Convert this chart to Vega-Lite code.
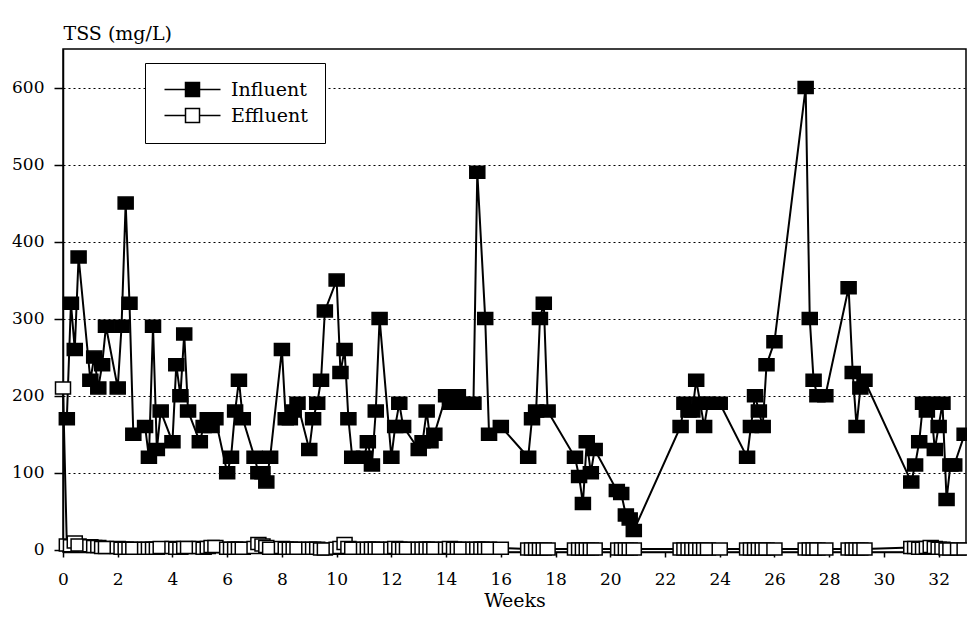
{
 "$schema": "https://vega.github.io/schema/vega-lite/v6.json",
 "width": 903, "height": 503,
 "autosize": {"type": "none"},
 "padding": {"left": 63, "top": 49, "right": 1, "bottom": 79},
 "background": "white",
 "config": {
  "view": {"stroke": "black", "strokeWidth": 1.5},
  "font": "DejaVu Serif",
  "axis": {"domainColor": "black", "tickColor": "black", "labelColor": "black", "titleColor": "black", "domainWidth": 1.5, "tickWidth": 1.5, "labelFont": "DejaVu Serif", "titleFont": "DejaVu Serif", "titleFontWeight": "normal"}
 },
 "data": {"values": [
  {"series":"Influent","week":0.14,"tss":170},{"series":"Influent","week":0.29,"tss":320},{"series":"Influent","week":0.43,"tss":260},{"series":"Influent","week":0.57,"tss":380},
  {"series":"Influent","week":1.0,"tss":220},{"series":"Influent","week":1.14,"tss":250},{"series":"Influent","week":1.29,"tss":210},{"series":"Influent","week":1.43,"tss":240},{"series":"Influent","week":1.57,"tss":290},
  {"series":"Influent","week":2.0,"tss":210},{"series":"Influent","week":2.14,"tss":290},{"series":"Influent","week":2.29,"tss":450},{"series":"Influent","week":2.43,"tss":320},{"series":"Influent","week":2.57,"tss":150},
  {"series":"Influent","week":3.0,"tss":160},{"series":"Influent","week":3.14,"tss":120},{"series":"Influent","week":3.29,"tss":290},{"series":"Influent","week":3.43,"tss":130},{"series":"Influent","week":3.57,"tss":180},
  {"series":"Influent","week":4.0,"tss":140},{"series":"Influent","week":4.14,"tss":240},{"series":"Influent","week":4.29,"tss":200},{"series":"Influent","week":4.43,"tss":280},{"series":"Influent","week":4.57,"tss":180},
  {"series":"Influent","week":5.0,"tss":140},{"series":"Influent","week":5.14,"tss":160},{"series":"Influent","week":5.29,"tss":170},{"series":"Influent","week":5.43,"tss":160},{"series":"Influent","week":5.57,"tss":170},
  {"series":"Influent","week":6.0,"tss":100},{"series":"Influent","week":6.14,"tss":120},{"series":"Influent","week":6.29,"tss":180},{"series":"Influent","week":6.43,"tss":220},{"series":"Influent","week":6.57,"tss":170},
  {"series":"Influent","week":7.0,"tss":120},{"series":"Influent","week":7.14,"tss":100},{"series":"Influent","week":7.29,"tss":100},{"series":"Influent","week":7.43,"tss":88},{"series":"Influent","week":7.57,"tss":120},
  {"series":"Influent","week":8.0,"tss":260},{"series":"Influent","week":8.14,"tss":170},{"series":"Influent","week":8.29,"tss":170},{"series":"Influent","week":8.43,"tss":180},{"series":"Influent","week":8.57,"tss":190},
  {"series":"Influent","week":9.0,"tss":130},{"series":"Influent","week":9.14,"tss":170},{"series":"Influent","week":9.29,"tss":190},{"series":"Influent","week":9.43,"tss":220},{"series":"Influent","week":9.57,"tss":310},
  {"series":"Influent","week":10.0,"tss":350},{"series":"Influent","week":10.14,"tss":230},{"series":"Influent","week":10.29,"tss":260},{"series":"Influent","week":10.43,"tss":170},{"series":"Influent","week":10.57,"tss":120},
  {"series":"Influent","week":11.0,"tss":120},{"series":"Influent","week":11.14,"tss":140},{"series":"Influent","week":11.29,"tss":110},{"series":"Influent","week":11.43,"tss":180},{"series":"Influent","week":11.57,"tss":300},
  {"series":"Influent","week":12.0,"tss":120},{"series":"Influent","week":12.14,"tss":160},{"series":"Influent","week":12.29,"tss":190},{"series":"Influent","week":12.43,"tss":160},
  {"series":"Influent","week":13.0,"tss":130},{"series":"Influent","week":13.14,"tss":140},{"series":"Influent","week":13.29,"tss":180},{"series":"Influent","week":13.43,"tss":140},{"series":"Influent","week":13.57,"tss":150},
  {"series":"Influent","week":14.0,"tss":200},{"series":"Influent","week":14.14,"tss":190},{"series":"Influent","week":14.29,"tss":200},{"series":"Influent","week":14.43,"tss":200},{"series":"Influent","week":14.57,"tss":190},
  {"series":"Influent","week":15.0,"tss":190},{"series":"Influent","week":15.14,"tss":490},{"series":"Influent","week":15.43,"tss":300},{"series":"Influent","week":15.57,"tss":150},
  {"series":"Influent","week":16.0,"tss":160},
  {"series":"Influent","week":17.0,"tss":120},{"series":"Influent","week":17.14,"tss":170},{"series":"Influent","week":17.29,"tss":180},{"series":"Influent","week":17.43,"tss":300},{"series":"Influent","week":17.57,"tss":320},{"series":"Influent","week":17.71,"tss":180},
  {"series":"Influent","week":18.71,"tss":120},{"series":"Influent","week":18.86,"tss":95},{"series":"Influent","week":19.0,"tss":60},{"series":"Influent","week":19.14,"tss":140},{"series":"Influent","week":19.29,"tss":100},{"series":"Influent","week":19.43,"tss":130},
  {"series":"Influent","week":20.24,"tss":77},{"series":"Influent","week":20.4,"tss":73},{"series":"Influent","week":20.57,"tss":45},{"series":"Influent","week":20.71,"tss":40},{"series":"Influent","week":20.86,"tss":25},
  {"series":"Influent","week":22.57,"tss":160},{"series":"Influent","week":22.71,"tss":190},{"series":"Influent","week":22.86,"tss":180},{"series":"Influent","week":23.0,"tss":180},{"series":"Influent","week":23.14,"tss":220},{"series":"Influent","week":23.29,"tss":190},{"series":"Influent","week":23.43,"tss":160},{"series":"Influent","week":23.57,"tss":190},{"series":"Influent","week":24.0,"tss":190},
  {"series":"Influent","week":25.0,"tss":120},{"series":"Influent","week":25.14,"tss":160},{"series":"Influent","week":25.29,"tss":200},{"series":"Influent","week":25.43,"tss":180},{"series":"Influent","week":25.57,"tss":160},{"series":"Influent","week":25.71,"tss":240},{"series":"Influent","week":26.0,"tss":270},
  {"series":"Influent","week":27.14,"tss":600},{"series":"Influent","week":27.29,"tss":300},{"series":"Influent","week":27.43,"tss":220},{"series":"Influent","week":27.57,"tss":200},{"series":"Influent","week":27.86,"tss":200},
  {"series":"Influent","week":28.71,"tss":340},{"series":"Influent","week":28.86,"tss":230},{"series":"Influent","week":29.0,"tss":160},{"series":"Influent","week":29.14,"tss":210},{"series":"Influent","week":29.29,"tss":220},
  {"series":"Influent","week":31.0,"tss":88},{"series":"Influent","week":31.14,"tss":110},{"series":"Influent","week":31.29,"tss":140},{"series":"Influent","week":31.43,"tss":190},{"series":"Influent","week":31.57,"tss":180},{"series":"Influent","week":31.71,"tss":190},{"series":"Influent","week":31.86,"tss":130},{"series":"Influent","week":32.0,"tss":160},{"series":"Influent","week":32.14,"tss":190},{"series":"Influent","week":32.29,"tss":65},{"series":"Influent","week":32.43,"tss":110},{"series":"Influent","week":32.57,"tss":110},{"series":"Influent","week":32.95,"tss":150},

  {"series":"Effluent","week":0.0,"tss":210},{"series":"Effluent","week":0.14,"tss":6},{"series":"Effluent","week":0.29,"tss":5},{"series":"Effluent","week":0.43,"tss":10},{"series":"Effluent","week":0.57,"tss":6},
  {"series":"Effluent","week":1.0,"tss":5},{"series":"Effluent","week":1.14,"tss":4},{"series":"Effluent","week":1.29,"tss":4},{"series":"Effluent","week":1.43,"tss":3},{"series":"Effluent","week":1.57,"tss":3},
  {"series":"Effluent","week":2.0,"tss":3},{"series":"Effluent","week":2.14,"tss":2},{"series":"Effluent","week":2.29,"tss":2},{"series":"Effluent","week":2.43,"tss":2},{"series":"Effluent","week":2.57,"tss":2},
  {"series":"Effluent","week":3.0,"tss":2},{"series":"Effluent","week":3.14,"tss":2},{"series":"Effluent","week":3.29,"tss":2},{"series":"Effluent","week":3.43,"tss":2},{"series":"Effluent","week":3.57,"tss":3},
  {"series":"Effluent","week":4.0,"tss":3},{"series":"Effluent","week":4.14,"tss":2},{"series":"Effluent","week":4.29,"tss":2},{"series":"Effluent","week":4.43,"tss":3},{"series":"Effluent","week":4.57,"tss":3},
  {"series":"Effluent","week":5.0,"tss":3},{"series":"Effluent","week":5.14,"tss":2},{"series":"Effluent","week":5.29,"tss":3},{"series":"Effluent","week":5.43,"tss":4},{"series":"Effluent","week":5.57,"tss":4},
  {"series":"Effluent","week":6.0,"tss":2},{"series":"Effluent","week":6.14,"tss":2},{"series":"Effluent","week":6.29,"tss":2},{"series":"Effluent","week":6.43,"tss":2},{"series":"Effluent","week":6.57,"tss":2},
  {"series":"Effluent","week":7.0,"tss":3},{"series":"Effluent","week":7.14,"tss":8},{"series":"Effluent","week":7.29,"tss":6},{"series":"Effluent","week":7.43,"tss":4},{"series":"Effluent","week":7.57,"tss":2},
  {"series":"Effluent","week":8.0,"tss":3},{"series":"Effluent","week":8.14,"tss":2},{"series":"Effluent","week":8.29,"tss":2},{"series":"Effluent","week":8.43,"tss":2},{"series":"Effluent","week":8.57,"tss":2},
  {"series":"Effluent","week":9.0,"tss":2},{"series":"Effluent","week":9.14,"tss":2},{"series":"Effluent","week":9.29,"tss":2},{"series":"Effluent","week":9.43,"tss":1},{"series":"Effluent","week":9.57,"tss":1},
  {"series":"Effluent","week":10.0,"tss":2},{"series":"Effluent","week":10.14,"tss":3},{"series":"Effluent","week":10.29,"tss":8},{"series":"Effluent","week":10.43,"tss":3},{"series":"Effluent","week":10.57,"tss":2},
  {"series":"Effluent","week":11.0,"tss":2},{"series":"Effluent","week":11.14,"tss":2},{"series":"Effluent","week":11.29,"tss":2},{"series":"Effluent","week":11.43,"tss":2},{"series":"Effluent","week":11.57,"tss":2},
  {"series":"Effluent","week":12.0,"tss":2},{"series":"Effluent","week":12.14,"tss":3},{"series":"Effluent","week":12.29,"tss":2},{"series":"Effluent","week":12.43,"tss":2},{"series":"Effluent","week":12.57,"tss":2},
  {"series":"Effluent","week":13.0,"tss":2},{"series":"Effluent","week":13.14,"tss":2},{"series":"Effluent","week":13.29,"tss":2},{"series":"Effluent","week":13.43,"tss":2},{"series":"Effluent","week":13.57,"tss":2},
  {"series":"Effluent","week":14.0,"tss":2},{"series":"Effluent","week":14.14,"tss":3},{"series":"Effluent","week":14.29,"tss":2},{"series":"Effluent","week":14.43,"tss":2},{"series":"Effluent","week":14.57,"tss":2},
  {"series":"Effluent","week":15.0,"tss":2},{"series":"Effluent","week":15.14,"tss":2},{"series":"Effluent","week":15.29,"tss":2},{"series":"Effluent","week":15.43,"tss":2},{"series":"Effluent","week":15.57,"tss":2},
  {"series":"Effluent","week":16.0,"tss":2},
  {"series":"Effluent","week":17.0,"tss":1},{"series":"Effluent","week":17.14,"tss":1},{"series":"Effluent","week":17.29,"tss":1},{"series":"Effluent","week":17.43,"tss":1},{"series":"Effluent","week":17.57,"tss":1},{"series":"Effluent","week":17.71,"tss":1},
  {"series":"Effluent","week":18.71,"tss":1},{"series":"Effluent","week":18.86,"tss":1},{"series":"Effluent","week":19.0,"tss":1},{"series":"Effluent","week":19.14,"tss":1},{"series":"Effluent","week":19.29,"tss":1},{"series":"Effluent","week":19.43,"tss":1},
  {"series":"Effluent","week":20.29,"tss":1},{"series":"Effluent","week":20.43,"tss":1},{"series":"Effluent","week":20.57,"tss":1},{"series":"Effluent","week":20.71,"tss":1},{"series":"Effluent","week":20.86,"tss":1},
  {"series":"Effluent","week":22.57,"tss":1},{"series":"Effluent","week":22.71,"tss":1},{"series":"Effluent","week":22.86,"tss":1},{"series":"Effluent","week":23.0,"tss":1},{"series":"Effluent","week":23.14,"tss":1},{"series":"Effluent","week":23.29,"tss":1},{"series":"Effluent","week":23.43,"tss":1},{"series":"Effluent","week":23.57,"tss":1},{"series":"Effluent","week":24.0,"tss":1},
  {"series":"Effluent","week":25.0,"tss":1},{"series":"Effluent","week":25.14,"tss":1},{"series":"Effluent","week":25.29,"tss":1},{"series":"Effluent","week":25.43,"tss":1},{"series":"Effluent","week":25.57,"tss":1},{"series":"Effluent","week":25.71,"tss":1},{"series":"Effluent","week":26.0,"tss":1},
  {"series":"Effluent","week":27.14,"tss":1},{"series":"Effluent","week":27.29,"tss":1},{"series":"Effluent","week":27.43,"tss":1},{"series":"Effluent","week":27.57,"tss":1},{"series":"Effluent","week":27.86,"tss":1},
  {"series":"Effluent","week":28.71,"tss":1},{"series":"Effluent","week":28.86,"tss":1},{"series":"Effluent","week":29.0,"tss":1},{"series":"Effluent","week":29.14,"tss":1},{"series":"Effluent","week":29.29,"tss":1},
  {"series":"Effluent","week":31.0,"tss":3},{"series":"Effluent","week":31.14,"tss":3},{"series":"Effluent","week":31.29,"tss":2},{"series":"Effluent","week":31.43,"tss":2},{"series":"Effluent","week":31.57,"tss":3},{"series":"Effluent","week":31.71,"tss":4},{"series":"Effluent","week":31.86,"tss":3},{"series":"Effluent","week":32.0,"tss":2},{"series":"Effluent","week":32.14,"tss":2},{"series":"Effluent","week":32.29,"tss":1},{"series":"Effluent","week":32.43,"tss":1},{"series":"Effluent","week":32.71,"tss":1},{"series":"Effluent","week":32.95,"tss":1}
 ]},
 "encoding": {
  "x": {"field": "week", "type": "quantitative",
        "scale": {"domain": [0, 33], "nice": false, "zero": false},
        "axis": {"values": [0,2,4,6,8,10,12,14,16,18,20,22,24,26,28,30,32], "title": "Weeks", "grid": false,
                 "tickSize": 5, "labelPadding": 14, "labelFontSize": 17, "labelFont": "DejaVu Serif", "labelFlush": false,
                 "titleFont": "DejaVu Serif", "titleFontSize": 19, "titleY": 48, "titleBaseline": "middle"}},
  "y": {"field": "tss", "type": "quantitative",
        "scale": {"domain": [-3, 650], "nice": false, "zero": false},
        "axis": {"values": [0,100,200,300,400,500,600], "title": "TSS (mg/L)", "titleAngle": 0, "titleX": 0, "titleY": -16,
                 "titleAlign": "left", "titleBaseline": "middle", "titleFont": "DejaVu Serif", "titleFontSize": 19,
                 "grid": true, "gridColor": "black", "gridDash": [2,3], "gridWidth": 1,
                 "gridOpacity": {"condition": {"test": "datum.value === 0", "value": 0}, "value": 1},
                 "tickSize": 9, "labelPadding": 10, "labelFont": "DejaVu Serif", "labelFontSize": 17}}
 },
 "layer": [
  {"mark": {"type": "line", "color": "black", "strokeWidth": 2},
   "encoding": {"detail": {"field": "series", "type": "nominal"}}},
  {"mark": {"type": "point", "shape": "M-1.25,-1H1.25V1H-1.25Z", "size": 144, "filled": true, "stroke": "black", "strokeWidth": 1.5, "opacity": 1},
   "encoding": {"fill": {"field": "series", "type": "nominal",
      "scale": {"domain": ["Influent", "Effluent"], "range": ["black", "white"]},
      "legend": {"title": null, "orient": "none", "legendX": 82, "legendY": 14, "padding": 17,
                 "strokeColor": "black", "fillColor": "white", "rowPadding": 5,
                 "labelFont": "DejaVu Serif", "labelFontSize": 19, "labelColor": "black",
                 "symbolType": "M-4,0H-1M1,0H4M-1,-1H1V1H-1Z", "symbolSize": 196,
                 "symbolStrokeColor": "black", "symbolStrokeWidth": 1.5, "symbolOffset": 21, "labelOffset": 29,
                 "encode": {"symbols": {"update": {"shape": {"value": "M-4,0H-1M1,0H4M-1,-1H1V1H-1Z"}, "size": {"value": 196}, "stroke": {"value": "black"}, "strokeWidth": {"value": 1.5}, "opacity": {"value": 1}}}}}}}}
 ]
}
